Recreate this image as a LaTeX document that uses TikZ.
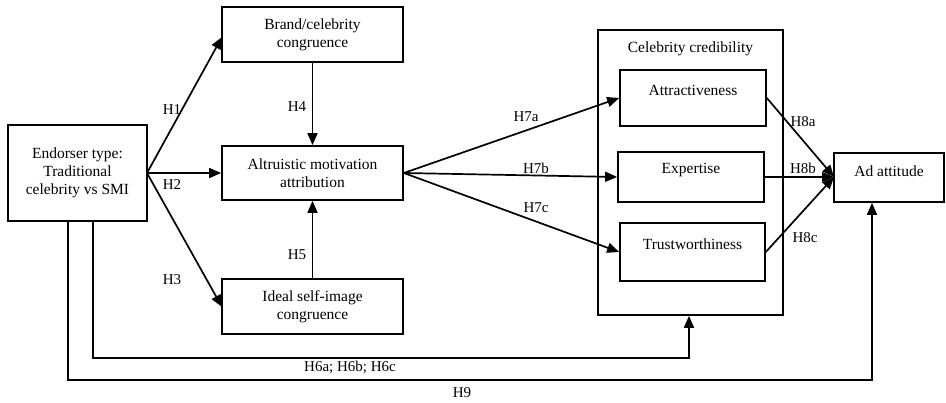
\documentclass[tikz,border=0pt]{standalone}
\usepackage{fontspec}
\setmainfont{Liberation Serif}
\usetikzlibrary{arrows.meta}
\begin{document}
\begin{tikzpicture}[x=1pt,y=-1pt,
  box/.style={draw,line width=1.7pt,inner sep=0pt,align=center,font=\fontsize{15.5}{18}\selectfont},
  txt/.style={font=\fontsize{15.5}{18}\selectfont,inner sep=0pt},
  lbl/.style={font=\fontsize{15}{17}\selectfont,inner sep=0pt},
  arr/.style={line width=1.7pt,-{Triangle[length=12pt,width=10pt]}}]
\useasboundingbox (0,0) rectangle (946,403);
% boxes
\node[box,minimum width=139pt,minimum height=96pt] (end) at (77.5,173) {Endorser type:\\Traditional\\celebrity vs SMI};
\node[box,minimum width=181pt,minimum height=55pt] (brand) at (312.5,34.5) {Brand/celebrity\\congruence};
\node[box,minimum width=181pt,minimum height=54pt] (alt) at (312.5,173) {Altruistic motivation\\attribution};
\node[box,minimum width=181pt,minimum height=55pt] (ideal) at (312.5,306.5) {Ideal self-image\\congruence};
\node[draw,line width=1.7pt,minimum width=185pt,minimum height=285pt,inner sep=0pt] (cred) at (690.5,172.5) {};
\node[txt] (credl) at (690.5,49) {Celebrity credibility};
\node[draw,line width=1.7pt,minimum width=146pt,minimum height=56pt,inner sep=0pt] (att) at (693,98) {};
\node[txt] (attl) at (693,90) {Attractiveness};
\node[draw,line width=1.7pt,minimum width=146pt,minimum height=50pt,inner sep=0pt] (exp) at (691,177) {};
\node[txt] (expl) at (691,170) {Expertise};
\node[draw,line width=1.7pt,minimum width=145pt,minimum height=58pt,inner sep=0pt] (tru) at (692.5,252) {};
\node[txt] (trul) at (692.5,244) {Trustworthiness};
\node[draw,line width=1.7pt,minimum width=110pt,minimum height=49pt,inner sep=0pt] (ad) at (889,177.5) {};
\node[txt] (adl) at (889,171) {Ad attitude};
% connectors
\coordinate (eo) at (147,173);
\coordinate (adin) at (834,177);
\draw[arr] (eo) -- (222,37);
\draw[arr] (eo) -- (alt.west);
\draw[arr] (eo) -- (222,307);
\draw[arr] (brand.south) -- (alt.north);
\draw[arr] (ideal.north) -- (alt.south);
\draw[arr] (alt.east) -- (att.west);
\draw[arr] (alt.east) -- (exp.west);
\draw[arr] (alt.east) -- (tru.west);
\draw[arr] (att.east) -- (adin);
\draw[arr] (exp.east) -- (adin);
\draw[arr] (tru.east) -- (adin);
\draw[arr] (93,221) |- (689,358) -- (cred.south -| 689,0);
\draw[arr] (68,221) |- (872,380) -- (ad.south -| 872,0);
% labels
\node[lbl] (h1) at (172,110) {H1};
\node[lbl] (h2) at (172,185) {H2};
\node[lbl] (h3) at (172,280) {H3};
\node[lbl] (h4) at (297,107) {H4};
\node[lbl] (h5) at (297,255) {H5};
\node[lbl] (h7a) at (526,117) {H7a};
\node[lbl] (h7b) at (536,168) {H7b};
\node[lbl] (h7c) at (536,208) {H7c};
\node[lbl] (h8a) at (803,122) {H8a};
\node[lbl] (h8b) at (803,168) {H8b};
\node[lbl] (h8c) at (805,238) {H8c};
\node[lbl] (h6) at (350,367) {H6a; H6b; H6c};
\node[lbl] (h9) at (462,393) {H9};
\end{tikzpicture}
\end{document}
